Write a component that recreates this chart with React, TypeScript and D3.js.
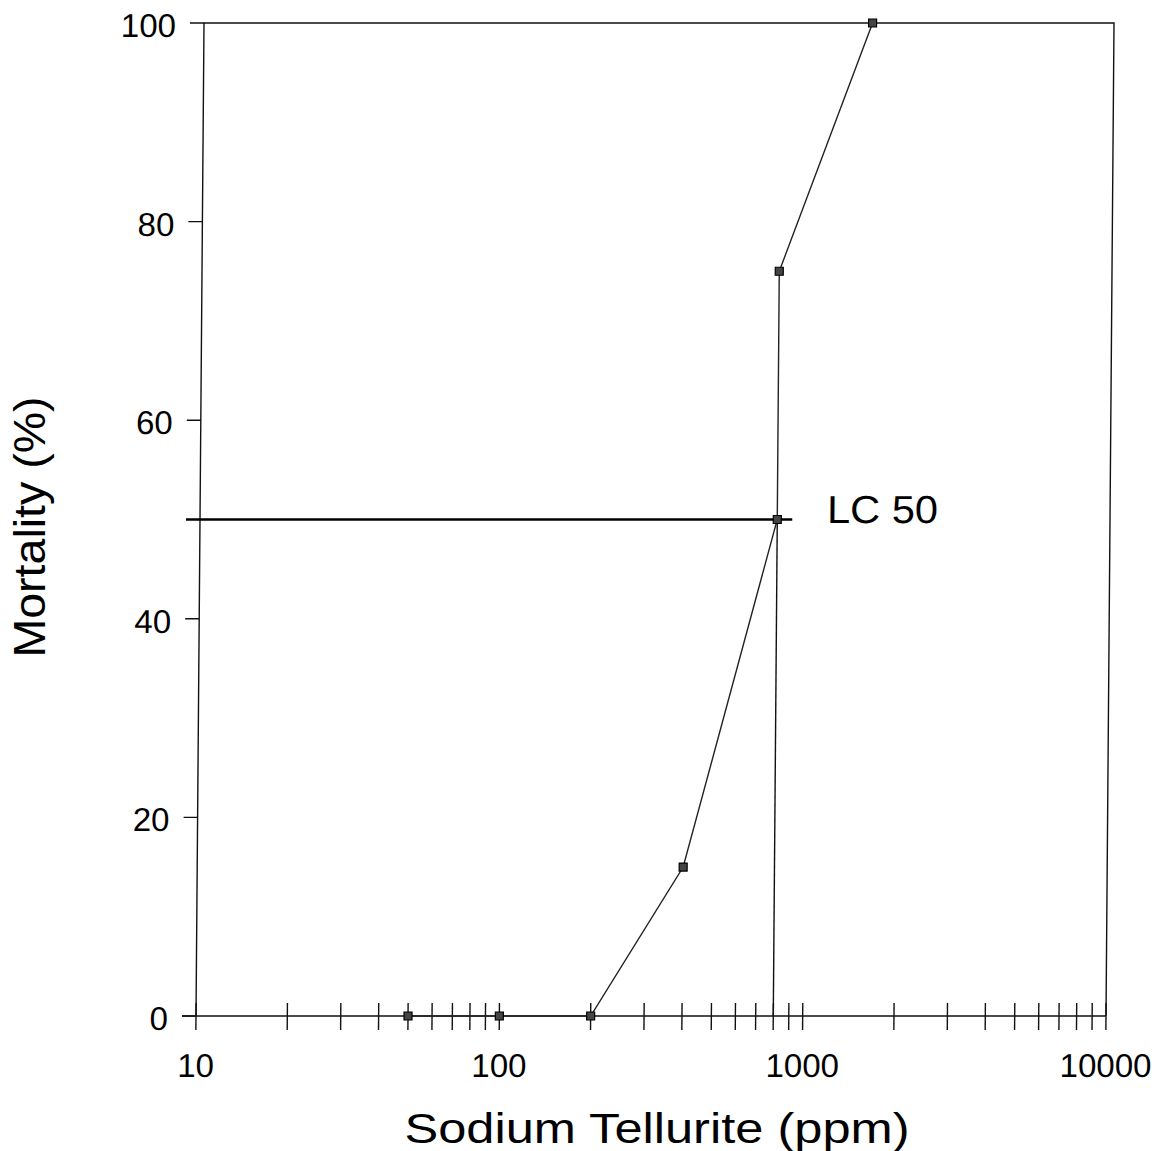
import React from 'react';
import * as d3 from 'd3';

// dose (ppm) vs mortality (%)
const doses = [50, 100, 200, 400, 800, 800, 1600];
const mortality = [0, 0, 0, 15, 50, 75, 100];
const lc50Dose = 800;
const lc50Value = 50;

const yTicks = [0, 20, 40, 60, 80, 100];
const xLabels = [10, 100, 1000, 10000];
const decades = [10, 100, 1000];
const multipliers = [1, 2, 3, 4, 5, 6, 7, 8, 9];

const W = 1167;
const H = 1151;
const left = 196;
const right = 1106;
const top = 23;
const bottom = 1016;
const tickLen = 14;
const font = '"Liberation Sans", Arial, sans-serif';

// the scan is slightly skewed: top edge sits ~8px right of the bottom one
const skew = 8 / (bottom - top);
const skewDeg = (Math.atan(skew) * 180) / Math.PI;

const App = () => {
  const x = d3.scaleLog().domain([10, 10000]).range([left, right]);
  const y = d3.scaleLinear().domain([0, 100]).range([bottom, top]);

  const xTicks = decades.flatMap(d => multipliers.map(m => d * m)).concat([10000]);

  const line = d3.line<number>()
    .x((_, i) => x(doses[i]))
    .y(d => y(d));

  return (
    <svg width={W} height={H} style={{ position: 'absolute', left: 0, top: 0, background: '#fff' }}>
      <g transform={`translate(${skew * bottom},0) skewX(${-skewDeg})`}>
        {/* frame */}
        <path
          d={`M${left},${bottom}V${top}H${right}V${bottom}`}
          fill="none" stroke="#111" strokeWidth={1.4}
        />
        {/* x axis line */}
        <line x1={left - tickLen} x2={right} y1={y(0)} y2={y(0)} stroke="#111" strokeWidth={1.6} />
        {xTicks.map(t => (
          <line key={t} x1={x(t)} x2={x(t)} y1={y(0) - 13} y2={y(0) + 14} stroke="#111" strokeWidth={1.4} />
        ))}
        {xLabels.map(t => (
          <text key={t} x={x(t)} y={1077} textAnchor="middle" fontFamily={font} fontSize={33} fill="#000">
            {t}
          </text>
        ))}

        {/* y axis ticks */}
        {yTicks.map(t => (
          <g key={t}>
            <line x1={left - tickLen} x2={left} y1={y(t)} y2={y(t)} stroke="#111" strokeWidth={1.4} />
            <text x={left - 28} y={y(t) + 14} textAnchor="end" fontFamily={font} fontSize={33} fill="#000">
              {t}
            </text>
          </g>
        ))}

        {/* LC50 guide lines */}
        <line
          x1={left - tickLen} x2={x(lc50Dose) + 15}
          y1={y(lc50Value)} y2={y(lc50Value)}
          stroke="#000" strokeWidth={2.4}
        />
        <line
          x1={x(lc50Dose)} x2={x(lc50Dose)}
          y1={y(0)} y2={y(lc50Value)}
          stroke="#111" strokeWidth={1.4}
        />
        <text x={823} y={523} fontFamily={font} fontSize={39} textLength={111} lengthAdjust="spacingAndGlyphs" fill="#000">
          LC 50
        </text>

        {/* data */}
        <path d={line(mortality) || ''} fill="none" stroke="#222" strokeWidth={1.4} />
        {mortality.map((m, i) => (
          <rect
            key={i}
            x={x(doses[i]) - 4} y={y(m) - 4} width={8} height={8}
            fill="#444" stroke="#000" strokeWidth={1.2}
          />
        ))}
      </g>

      {/* axis titles */}
      <text
        x={657} y={1143} textAnchor="middle" fontFamily={font} fontSize={42}
        textLength={505} lengthAdjust="spacingAndGlyphs" fill="#000"
      >
        Sodium Tellurite (ppm)
      </text>
      <text
        transform={`translate(45,527) rotate(-90)`} textAnchor="middle" fontFamily={font} fontSize={44}
        textLength={261} lengthAdjust="spacingAndGlyphs" fill="#000"
      >
        Mortality  (%)
      </text>
    </svg>
  );
};

export default App;
